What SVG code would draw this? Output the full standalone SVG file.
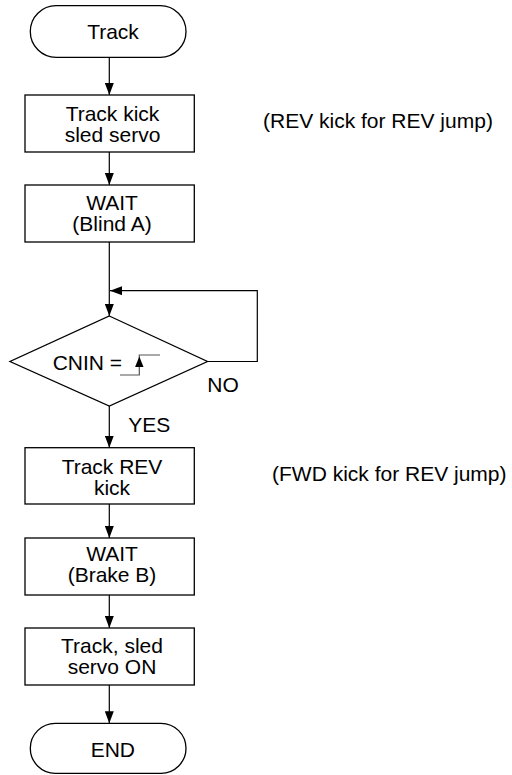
<svg xmlns="http://www.w3.org/2000/svg" width="512" height="775" viewBox="0 0 512 775">
<style>
  .shape { fill: #ffffff; stroke: #000000; stroke-width: 1.3; }
  .t { font-family: "Liberation Sans", Arial, sans-serif; font-size: 21px; fill: #000000; }
  .c { text-anchor: middle; }
  .conn { fill: none; stroke: #000000; stroke-width: 1.2; }
  .wave { fill: none; stroke: #555555; stroke-width: 1.2; }
</style>
<defs>
  <marker id="arr" viewBox="0 0 12 9" refX="12" refY="4.5" markerWidth="12" markerHeight="9" markerUnits="userSpaceOnUse" orient="auto">
    <path d="M0,0 L12,4.5 L0,9 Z" fill="#000000"/>
  </marker>
</defs>
<rect width="512" height="775" fill="#ffffff"/>

<g id="connectors">
  <line class="conn" x1="109.3" y1="57.3" x2="109.3" y2="95" marker-end="url(#arr)"/>
  <line class="conn" x1="109.3" y1="152" x2="109.3" y2="185" marker-end="url(#arr)"/>
  <line class="conn" x1="109.3" y1="242" x2="109.3" y2="316" marker-end="url(#arr)"/>
  <polyline class="conn" points="207.5,361.5 257.3,361.5 257.3,290.7 110,290.7" marker-end="url(#arr)"/>
  <line class="conn" x1="109.3" y1="406" x2="109.3" y2="447.7" marker-end="url(#arr)"/>
  <line class="conn" x1="109.3" y1="504" x2="109.3" y2="538" marker-end="url(#arr)"/>
  <line class="conn" x1="109.3" y1="595" x2="109.3" y2="628" marker-end="url(#arr)"/>
  <line class="conn" x1="109.3" y1="685" x2="109.3" y2="723.3" marker-end="url(#arr)"/>
  <text class="t" x="207.3" y="391.7">NO</text>
  <text class="t" x="128.3" y="432.3">YES</text>
</g>

<g id="start">
  <rect class="shape" x="30.3" y="5.7" width="155.7" height="51.6" rx="25.8" ry="25.8"/>
  <text class="t c" x="113" y="39">Track</text>
</g>

<g id="kick">
  <rect class="shape" x="25" y="95" width="169.3" height="57"/>
  <text class="t c" x="112.5" y="121">Track kick</text>
  <text class="t c" x="112.5" y="142">sled servo</text>
</g>

<g id="note1">
  <text class="t" x="263" y="128">(REV kick for REV jump)</text>
</g>

<g id="waitA">
  <rect class="shape" x="25" y="185" width="169.3" height="57"/>
  <text class="t c" x="112" y="210">WAIT</text>
  <text class="t c" x="112" y="231">(Blind A)</text>
</g>

<g id="decision">
  <polygon class="shape" points="109.3,316 207.5,361.5 109.3,406 10,361.5"/>
  <text class="t" x="52.7" y="370">CNIN =</text>
  <polyline class="wave" points="120,375 139.3,375 139.3,355 160,355"/>
  <polygon points="139.3,356.5 143.5,367 135.1,367" fill="#000000"/>
</g>

<g id="revkick">
  <rect class="shape" x="25" y="447.7" width="169.3" height="56.3"/>
  <text class="t c" x="112" y="474">Track REV</text>
  <text class="t c" x="112" y="495">kick</text>
</g>

<g id="note2">
  <text class="t" x="272" y="480.5">(FWD kick for REV jump)</text>
</g>

<g id="waitB">
  <rect class="shape" x="25" y="538" width="169.3" height="57"/>
  <text class="t c" x="112" y="561.2">WAIT</text>
  <text class="t c" x="112" y="582.2">(Brake B)</text>
</g>

<g id="servoOn">
  <rect class="shape" x="25" y="628" width="169.3" height="57"/>
  <text class="t c" x="112" y="653">Track, sled</text>
  <text class="t c" x="112" y="674">servo ON</text>
</g>

<g id="end">
  <rect class="shape" x="30.3" y="723.3" width="155.7" height="50" rx="25" ry="25"/>
  <text class="t c" x="112.8" y="757.3">END</text>
</g>
</svg>
